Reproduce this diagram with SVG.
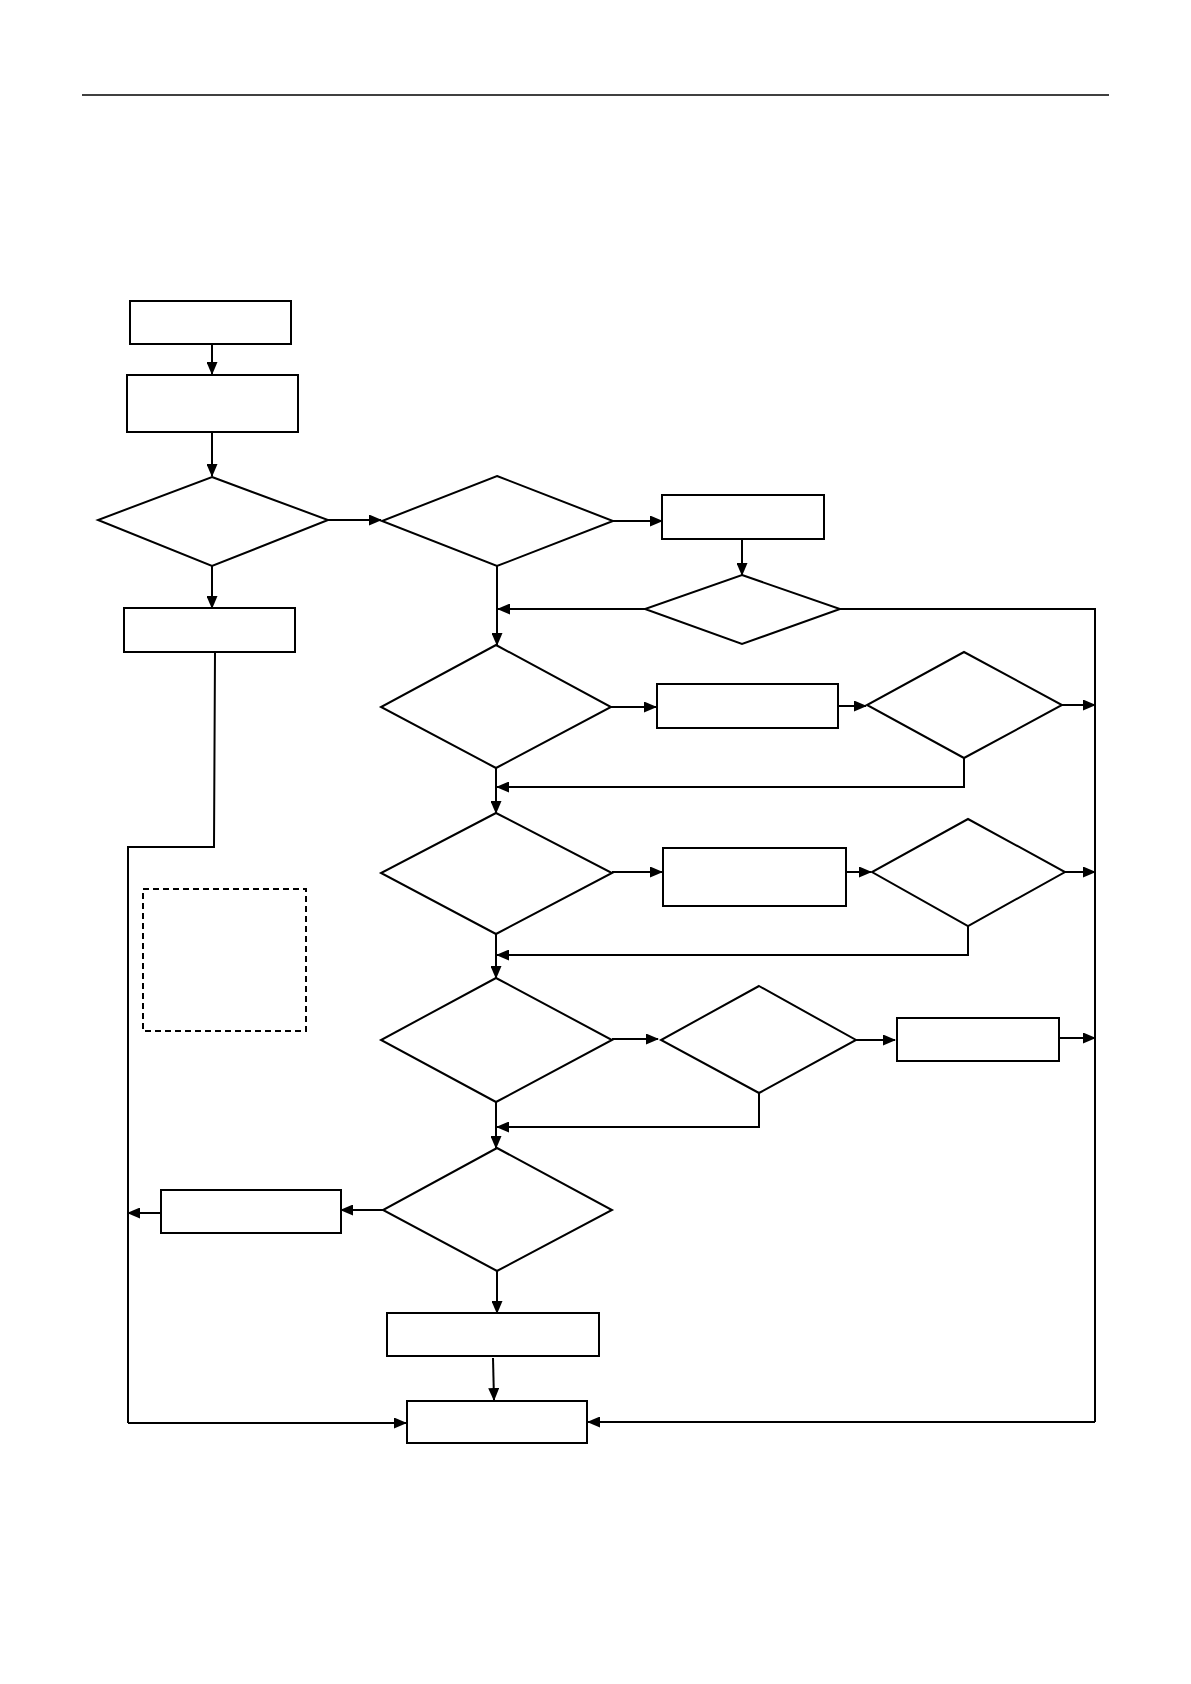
<svg xmlns="http://www.w3.org/2000/svg" width="1191" height="1684" viewBox="0 0 1191 1684">
<style>
.n{fill:#fff;stroke:#000;stroke-width:2}
.d{fill:#fff;stroke:#000;stroke-width:2;stroke-dasharray:6,4}
.c{fill:none;stroke:#000;stroke-width:2}
.a{fill:none;stroke:#000;stroke-width:2;marker-end:url(#ah)}
</style>
<defs>
<marker id="ah" markerUnits="userSpaceOnUse" markerWidth="13" markerHeight="11" refX="12" refY="5.5" orient="auto">
<path d="M0,0 L13,5.5 L0,11 Z" fill="#000"/>
</marker>
</defs>
<rect width="1191" height="1684" fill="#fff"/>
<line x1="82" y1="95" x2="1109" y2="95" stroke="#000" stroke-width="1.3"/>
<g id="connectors">
<path class="a" d="M212,344 V374"/>
<path class="a" d="M212,432 V476"/>
<path class="a" d="M328,520 H381"/>
<path class="a" d="M212,566 V608"/>
<path class="a" d="M613,521 H662"/>
<path class="a" d="M742,539 V575"/>
<path class="a" d="M645,609 H498"/>
<path class="a" d="M497,566 V645"/>
<path class="c" d="M840,609 H1095 V1422"/>
<path class="a" d="M611,707 H656"/>
<path class="a" d="M838,706 H866"/>
<path class="a" d="M1062,705 H1095"/>
<path class="a" d="M964,758 V787 H497"/>
<path class="a" d="M496,768 V813"/>
<path class="a" d="M612,872 H662"/>
<path class="a" d="M846,872 H871"/>
<path class="a" d="M1065,872 H1095"/>
<path class="a" d="M968,926 V955 H497"/>
<path class="a" d="M496,934 V978"/>
<path class="a" d="M612,1039 H658"/>
<path class="a" d="M856,1040 H895"/>
<path class="a" d="M1059,1038 H1095"/>
<path class="a" d="M759,1093 V1127 H497"/>
<path class="a" d="M496,1102 V1148"/>
<path class="a" d="M383,1210 H341"/>
<path class="a" d="M161,1213 H128"/>
<path class="a" d="M497,1271 V1313"/>
<path class="a" d="M493,1358 L494,1400"/>
<path class="c" d="M215,652 L214,847 H128 V1423"/>
<path class="a" d="M128,1423 H406"/>
<path class="a" d="M1095,1422 H588"/>
</g>
<g id="n1"><rect class="n" x="130" y="301" width="161" height="43"/></g>
<g id="n2"><rect class="n" x="127" y="375" width="171" height="57"/></g>
<g id="n3"><polygon class="n" points="212,477 328,520 212,566 98,520"/></g>
<g id="n4"><rect class="n" x="124" y="608" width="171" height="44"/></g>
<g id="n5"><polygon class="n" points="497,476 613,521 497,566 382,521"/></g>
<g id="n6"><rect class="n" x="662" y="495" width="162" height="44"/></g>
<g id="n7"><polygon class="n" points="742,575 840,609 742,644 645,609"/></g>
<g id="n8"><polygon class="n" points="496,645 611,707 496,768 381,707"/></g>
<g id="n9"><rect class="n" x="657" y="684" width="181" height="44"/></g>
<g id="n10"><polygon class="n" points="964,652 1062,705 964,758 867,705"/></g>
<g id="n11"><polygon class="n" points="496,813 612,873 496,934 381,873"/></g>
<g id="n12"><rect class="n" x="663" y="848" width="183" height="58"/></g>
<g id="n13"><polygon class="n" points="968,819 1065,872 968,926 872,872"/></g>
<g id="n14"><polygon class="n" points="496,978 612,1040 496,1102 381,1040"/></g>
<g id="n15"><polygon class="n" points="759,986 856,1040 759,1093 661,1040"/></g>
<g id="n16"><rect class="n" x="897" y="1018" width="162" height="43"/></g>
<g id="n17"><polygon class="n" points="497,1148 612,1210 497,1271 383,1210"/></g>
<g id="n18"><rect class="n" x="161" y="1190" width="180" height="43"/></g>
<g id="n19"><rect class="n" x="387" y="1313" width="212" height="43"/></g>
<g id="n20"><rect class="n" x="407" y="1401" width="180" height="42"/></g>
<g id="n21"><rect class="d" x="143" y="889" width="163" height="142"/></g>
</svg>
